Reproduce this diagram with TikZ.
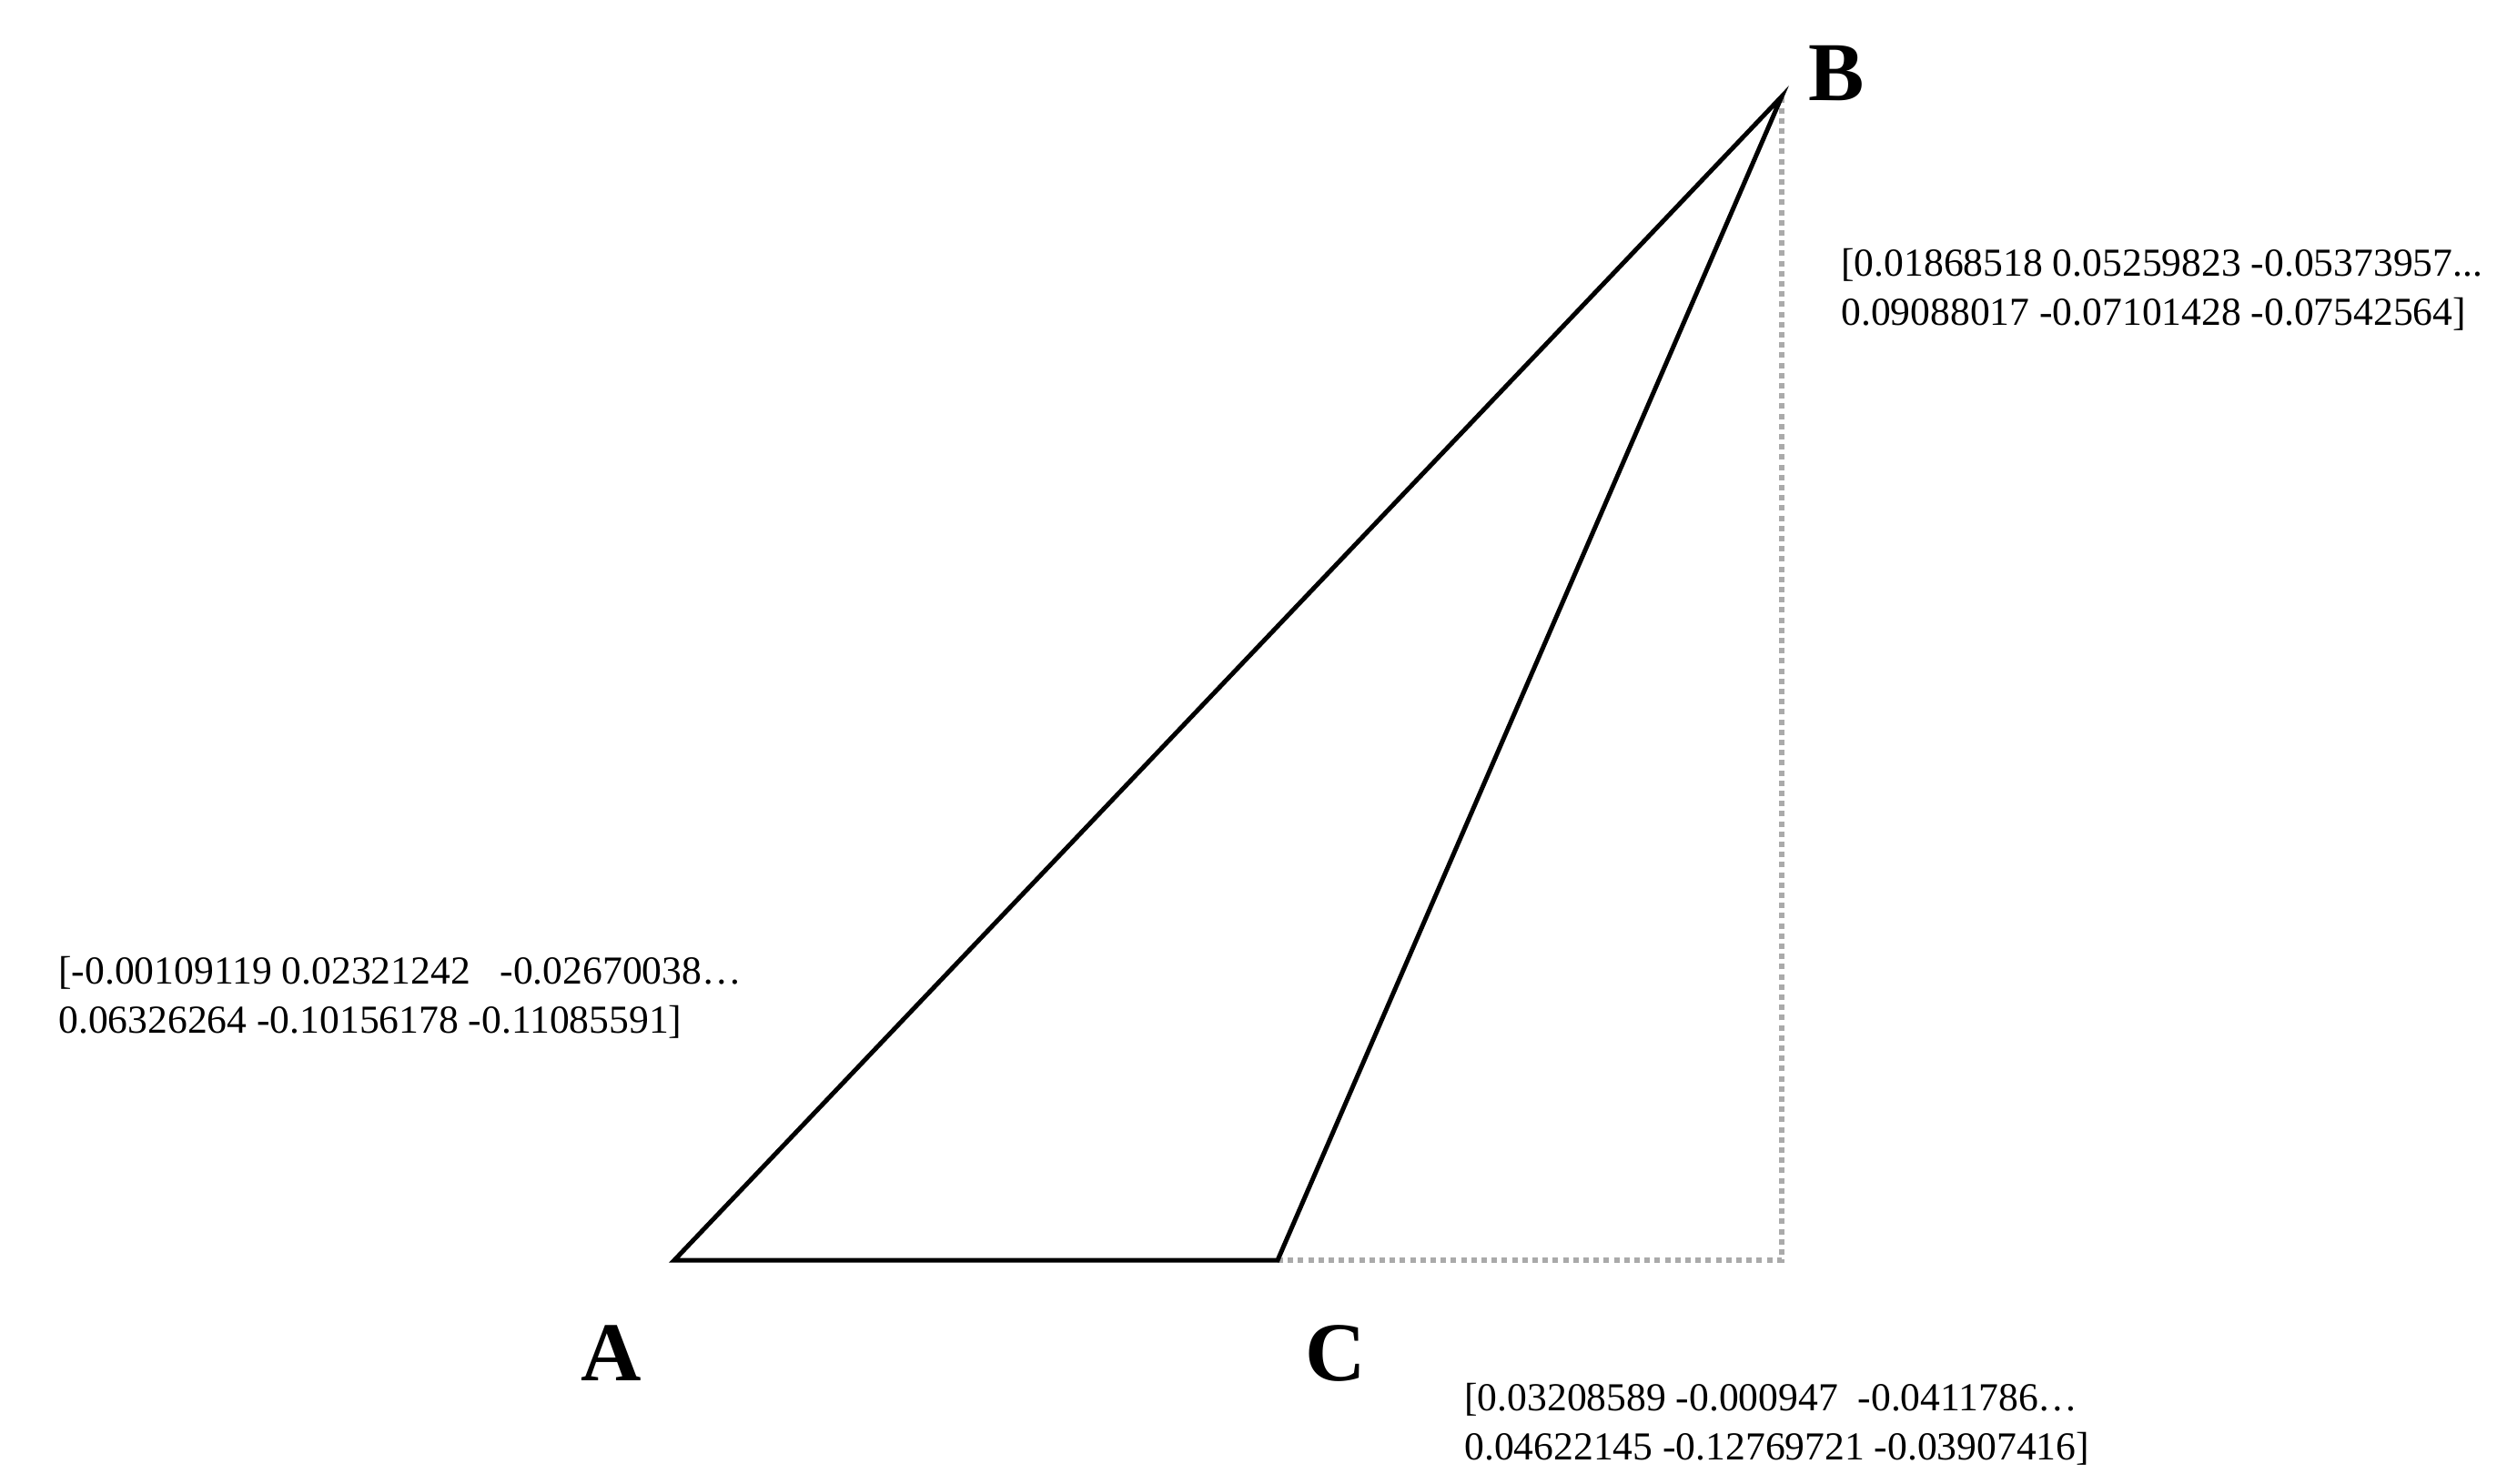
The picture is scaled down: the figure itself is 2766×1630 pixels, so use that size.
\documentclass[tikz,border=0pt]{standalone}
\usepackage{fontspec}
\setmainfont{Liberation Serif}
\begin{document}
\begin{tikzpicture}[x=0.5pt,y=-0.5pt,
  tri/.style={line width=2.5pt,black,line join=miter},
  guide/.style={line width=3pt,color={rgb,255:red,170;green,170;blue,170},dash pattern=on 3pt off 2.6pt},
  vlabel/.style={inner sep=0pt,font=\fontsize{46}{50}\selectfont\bfseries},
  vec/.style={inner sep=0pt,anchor=west,align=left,font=\fontsize{21.8}{27}\selectfont}]
\useasboundingbox (0,0) rectangle (2766,1630);
\coordinate (A) at (741,1385);
\coordinate (C) at (1404,1385);
\coordinate (B) at (1958,106);
\coordinate (D) at (1958,1385);
\draw[guide] (C) -- (D) -- (B);
\draw[tri] (A) -- (B) -- (C) -- cycle;
\node[vlabel] (la) at (672,1487) {A};
\node[vlabel] (lc) at (1468,1487) {C};
\node[vlabel] (lb) at (2018,81) {B};
\node[vec] (vb) at (2023,318) {[0.01868518 0.05259823 -0.05373957...\\0.09088017 -0.07101428 -0.07542564]};
\node[vec] (va) at (64,1096) {[-0.00109119 0.02321242 \ \ -0.02670038…\\0.06326264 -0.10156178 -0.11085591]};
\node[vec] (vc) at (1609,1565) {[0.03208589 -0.000947 \ -0.0411786…\\0.04622145 -0.12769721 -0.03907416]};
\end{tikzpicture}
\end{document}
